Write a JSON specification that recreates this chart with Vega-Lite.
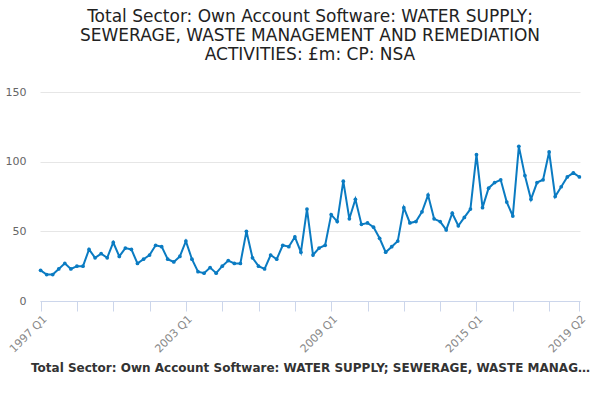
{"$schema":"https://vega.github.io/schema/vega-lite/v6.json","width":540,"height":209,"padding":{"left":5,"right":10,"top":8,"bottom":2},
"title":{"text":["Total Sector: Own Account Software: WATER SUPPLY;","SEWERAGE, WASTE MANAGEMENT AND REMEDIATION","ACTIVITIES: £m: CP: NSA"],"font":"DejaVu Sans","fontSize":17,"fontWeight":"normal","color":"#222","offset":22,"anchor":"middle"},
"config":{"view":{"stroke":null},"font":"DejaVu Sans"},
"data":{"values":[22,19,19,23,27,23,25,25,37,31,34,31,42,32,38,37,27,30,33,40,39,30,28,32,43,30,21,20,24,20,25,29,27,27,50,31,25,23,33,30,40,39,46,35,66,33,38,40,62,57,86,59,73,55,56,53,45,35,39,43,67,56,57,64,76,59,57,51,63,54,60,66,105,67,81,85,87,71,61,111,90,73,85,87,107,75,82,89,92,89]},
"transform":[{"window":[{"op":"row_number","as":"i"}]},{"calculate":"(1997+floor((datum.i-1)/4))+' Q'+(((datum.i-1)%4)+1)","as":"q"}],
"mark":{"type":"line","color":"#0a7bc2","strokeWidth":2,"point":{"color":"#0a7bc2","size":14}},
"encoding":{
"x":{"field":"q","type":"ordinal","sort":null,"scale":{"type":"point","padding":0.1},
"axis":{"values":["1997 Q1","1998 Q3","2000 Q1","2001 Q3","2003 Q1","2004 Q3","2006 Q1","2007 Q3","2009 Q1","2010 Q3","2012 Q1","2013 Q3","2015 Q1","2016 Q3","2018 Q1","2019 Q2"],"labelExpr":"indexof(['1997 Q1','2003 Q1','2009 Q1','2015 Q1','2019 Q2'],datum.value)>=0?datum.value:''","labelAngle":-45,"labelColor":"#888","labelFontSize":11,"domainColor":"#ccd6eb","tickColor":"#ccd6eb","tickSize":10,"grid":false,"title":["Total Sector: Own Account Software: WATER SUPPLY; SEWERAGE, WASTE MANAGEMENT AND REMEDIATION ACTIVITIES: £m: CP: NSA"],"titleFontSize":12,"titleColor":"#333","titlePadding":8,"titleLimit":560}},
"y":{"field":"data","type":"quantitative","scale":{"domain":[0,150]},
"axis":{"values":[0,50,100,150],"title":null,"domain":false,"ticks":false,"labelColor":"#666","labelFontSize":11,"gridColor":"#e6e6e6","labelPadding":14}}}}
